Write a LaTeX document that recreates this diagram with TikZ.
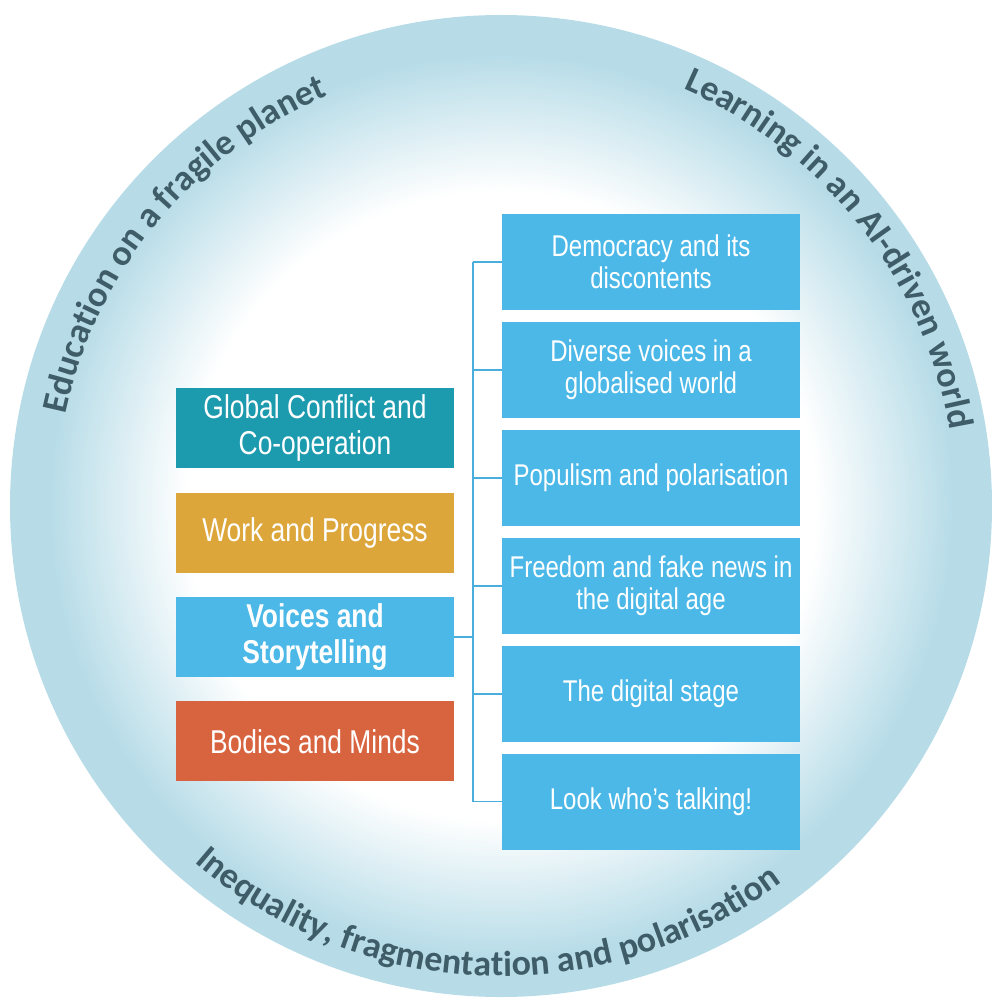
\documentclass[tikz,border=0pt]{standalone}
\usepackage{fontspec}
\usepackage{xcolor}
\usepackage{tikz}
\usetikzlibrary{positioning,decorations.text}

\newfontfamily\boxfont{Liberation Sans}[FakeStretch=0.8]
\newfontfamily\ringfamily{Carlito}

\definecolor{haloblue}{HTML}{B7DCE8}
\definecolor{ringgrey}{HTML}{3F5D69}
\definecolor{globalteal}{HTML}{1C9AAE}
\definecolor{workgold}{HTML}{DCA63A}
\definecolor{voiceblue}{HTML}{4BB8E8}
\definecolor{bodiesred}{HTML}{D8633F}
\definecolor{linkblue}{HTML}{4AAEDC}

\pgfdeclareradialshading{halo}{\pgfpoint{0bp}{0bp}}{color(0bp)=(white); color(16bp)=(white); color(23bp)=(haloblue); color(50bp)=(haloblue)}

\newcommand{\ringtext}{\ringfamily\bfseries\fontsize{36}{40}\selectfont}

\begin{document}
\begin{tikzpicture}[x=1pt, y=1pt,
  node distance=24pt,
  theme/.style={minimum width=278pt, minimum height=80pt, inner sep=0pt,
                align=center, text=white, font=\boxfont\fontsize{33}{36}\selectfont},
  topic/.style={minimum width=298pt, minimum height=96pt, inner sep=0pt,
                align=center, text=white, fill=voiceblue,
                font=\boxfont\fontsize{30}{32}\selectfont},
  link/.style={draw=linkblue, line width=1.8pt},
  ring/.style={decorate, decoration={text along path, text align=center,
               text color=ringgrey, text={|\ringtext|#1}}}]
\useasboundingbox (0,-1000) rectangle (992,0);
\coordinate (ctr) at (501,-506);
\shade[shading=halo] (ctr) circle[radius=491];

\path[ring={Education on a fragile planet}]
  ([shift={(181:445)}]ctr) arc[start angle=181, end angle=100, radius=445];
\path[ring={Learning in an AI-driven world}]
  ([shift={(78:455)}]ctr) arc[start angle=78, end angle=-2, radius=455];
\path[ring={Inequality, fragmentation and polarisation}]
  ([shift={(216:470)}]ctr) arc[start angle=216, end angle=320, radius=470];

\node[theme, fill=voiceblue, font=\boxfont\bfseries\fontsize{33}{36}\selectfont]
  (voices) at (315,-637) {Voices and\\Storytelling};
\node[theme, fill=workgold, above=of voices] (work) {Work and Progress};
\node[theme, fill=globalteal, above=of work] (global) {Global Conflict and\\Co-operation};
\node[theme, fill=bodiesred, below=of voices] (bodies) {Bodies and Minds};

\node[topic] (democracy) at (651,-262) {Democracy and its\\discontents};
\node[topic, below=11.5pt of democracy] (diverse) {Diverse voices in a\\globalised world};
\node[topic, below=11.5pt of diverse] (populism) {Populism and polarisation};
\node[topic, below=11.5pt of populism] (freedom) {Freedom and fake news in\\the digital age};
\node[topic, below=11.5pt of freedom] (stage) {The digital stage};
\node[topic, below=11.5pt of stage] (talking) {Look who’s talking!};

\coordinate[right=19pt of voices.east] (bus);
\draw[link] (voices.east) -- (bus);
\draw[link] (bus |- democracy.west) -- (bus |- talking.west);
\draw[link] (bus |- democracy.west) -- (democracy.west);
\draw[link] (bus |- diverse.west) -- (diverse.west);
\draw[link] (bus |- populism.west) -- (populism.west);
\draw[link] (bus |- freedom.west) -- (freedom.west);
\draw[link] (bus |- stage.west) -- (stage.west);
\draw[link] (bus |- talking.west) -- (talking.west);
\end{tikzpicture}
\end{document}
